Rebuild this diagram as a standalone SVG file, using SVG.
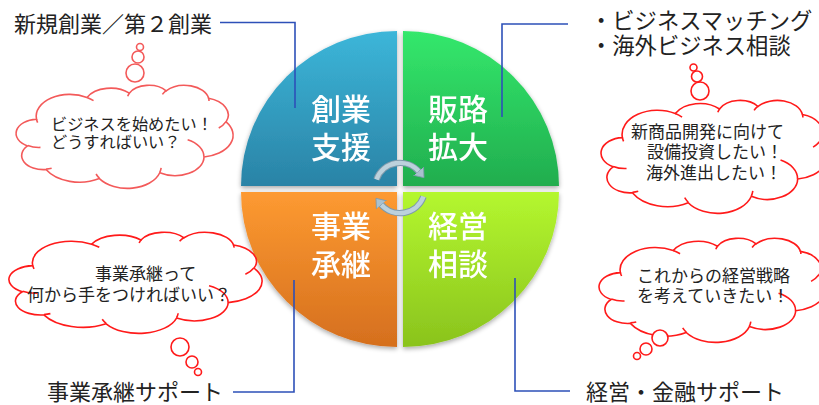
<svg xmlns="http://www.w3.org/2000/svg" xmlns:xlink="http://www.w3.org/1999/xlink" width="819" height="405" viewBox="0 0 819 405">
<style>
  .lbl { font-family: "Liberation Sans", "Noto Sans CJK JP", sans-serif; font-size: 22px; fill: #222; }
  .say { font-family: "Liberation Sans", "Noto Sans CJK JP", sans-serif; font-size: 17px; fill: #222; }
  .quad { font-family: "Liberation Sans", "Noto Sans CJK JP", sans-serif; font-size: 30px; font-weight: 500; fill: #fff; text-anchor: middle; }
  .cloud { fill: #fff; stroke: #ff1a1a; stroke-width: 1.6; }
  .crease { fill: none; stroke: #ff1a1a; stroke-width: 1.6; }
  .bub { fill: #fff; stroke: #ff1a1a; stroke-width: 1.6; }
  .conn { fill: none; stroke: #2d50b8; stroke-width: 1.6; }
</style>
<defs>
  <path id="cloudOutline" vector-effect="non-scaling-stroke" d="M3900,14370 A6753,9190 0 0 1 14005,5201 A5333,7267 0 0 1 22456,3431 A4365,5945 0 0 1 29832,2478 A4857,6595 0 0 1 38318,5572 A5333,7273 0 0 1 41818,15456 A6775,9220 0 0 1 37402,30198 A5785,7867 0 0 1 28554,36807 A6752,9215 0 0 1 16480,39262 A7720,10543 0 0 1 5804,35469 A4360,5918 0 0 1 2112,25548 A4345,5945 0 0 1 3900,14370 Z"/>
  <path id="cloudCreases" vector-effect="non-scaling-stroke" d="M4693,26177 A4345,5945 0 0 1 2159,25379 M6928,34899 A4360,5918 0 0 1 5820,35281 M16478,39090 A6752,9215 0 0 1 15809,37348 M28827,34751 A6752,9215 0 0 1 28560,36661 M34129,22954 A5785,7867 0 0 1 37380,30089 M41798,15354 A5333,7273 0 0 1 40350,18031 M38324,5426 A4857,6595 0 0 1 38401,6691 M29078,3952 A4857,6595 0 0 1 29820,2340 M22141,4720 A4365,5945 0 0 1 22500,3332 M14000,5192 A6753,9190 0 0 1 15306,6549 M4127,15789 A6753,9190 0 0 1 3900,14370"/>
  <linearGradient id="gBlue" x1="0" y1="0" x2="0" y2="1"><stop offset="0" stop-color="#3cb6d9"/><stop offset="1" stop-color="#2a83a6"/></linearGradient>
  <linearGradient id="gGreen" x1="0" y1="0" x2="0" y2="1"><stop offset="0" stop-color="#34e86c"/><stop offset="1" stop-color="#21ad4e"/></linearGradient>
  <linearGradient id="gOrange" x1="0" y1="0" x2="0" y2="1"><stop offset="0" stop-color="#fd9a31"/><stop offset="1" stop-color="#d56f1e"/></linearGradient>
  <linearGradient id="gLime" x1="0" y1="0" x2="0" y2="1"><stop offset="0" stop-color="#b4f72f"/><stop offset="1" stop-color="#8ac31d"/></linearGradient>
  <filter id="shadow" x="-10%" y="-10%" width="120%" height="125%">
    <feGaussianBlur in="SourceAlpha" stdDeviation="2.5"/>
    <feOffset dx="0" dy="2" result="b"/>
    <feComponentTransfer><feFuncA type="linear" slope="0.35"/></feComponentTransfer>
    <feMerge><feMergeNode/><feMergeNode in="SourceGraphic"/></feMerge>
  </filter>
  <marker id="cyc" viewBox="0 -7 9 14" refX="1" refY="0" markerWidth="9" markerHeight="14" markerUnits="userSpaceOnUse" orient="auto">
    <path d="M0,-6.5 L8.5,0 L0,6.5 Z" fill="#a9c1cf" stroke="#7f9aab" stroke-width="0.8"/>
  </marker>
</defs>

<!-- quadrants -->
<g id="quad-sogyo" filter="url(#shadow)">
  <path d="M397,186 H241 A156,155 0 0 1 397,31 Z" fill="url(#gBlue)"/>
  <text class="quad"><tspan x="341" y="120">創業</tspan><tspan x="341" y="158">支援</tspan></text>
</g>
<g id="quad-hanro" filter="url(#shadow)">
  <path d="M403,186 V31 A156,155 0 0 1 559,186 Z" fill="url(#gGreen)"/>
  <text class="quad"><tspan x="458" y="120">販路</tspan><tspan x="458" y="158">拡大</tspan></text>
</g>
<g id="quad-shokei" filter="url(#shadow)">
  <path d="M397,192 V347 A156,155 0 0 1 241,192 Z" fill="url(#gOrange)"/>
  <text class="quad"><tspan x="341" y="237">事業</tspan><tspan x="341" y="275">承継</tspan></text>
</g>
<g id="quad-keiei" filter="url(#shadow)">
  <path d="M403,192 H559 A156,155 0 0 1 403,347 Z" fill="url(#gLime)"/>
  <text class="quad"><tspan x="458" y="237">経営</tspan><tspan x="458" y="275">相談</tspan></text>
</g>

<!-- cycle arrows -->
<g id="cycle">
  <path d="M376.5,179.4 A25,25 0 0 1 419.2,171.9" fill="none" stroke="#7f9aab" stroke-width="6.5"/>
  <path d="M376.5,179.4 A25,25 0 0 1 419.2,171.9" fill="none" stroke="#bcd1dc" stroke-width="4.5" marker-end="url(#cyc)"/>
  <path d="M423.5,196.6 A25,25 0 0 1 380.8,204.1" fill="none" stroke="#7f9aab" stroke-width="6.5"/>
  <path d="M423.5,196.6 A25,25 0 0 1 380.8,204.1" fill="none" stroke="#bcd1dc" stroke-width="4.5" marker-end="url(#cyc)"/>
</g>

<!-- connectors -->
<g id="connectors">
  <path class="conn" d="M220,22.5 H295 V108"/>
  <path class="conn" d="M502,117 V24 H568"/>
  <path class="conn" d="M233,392 H294 V280"/>
  <path class="conn" d="M515,278 V391 H570"/>
</g>

<!-- labels -->
<g id="label-sogyo"><text class="lbl" x="14" y="32">新規創業／第２創業</text></g>
<g id="label-hanro">
  <text class="lbl" style="font-size:22.3px"><tspan x="590" y="29">・ビジネスマッチング</tspan><tspan x="590" y="54">・海外ビジネス相談</tspan></text>
</g>
<g id="label-shokei"><text class="lbl" x="47" y="400">事業承継サポート</text></g>
<g id="label-keiei"><text class="lbl" x="586" y="400">経営・金融サポート</text></g>

<!-- thought clouds -->
<g id="cloud-sogyo">
  <use href="#cloudOutline" class="cloud" style="stroke:#f35a5a" transform="translate(17,85) scale(0.005,0.002384)"/>
  <use href="#cloudCreases" class="crease" style="stroke:#f35a5a" transform="translate(17,85) scale(0.005,0.002384)"/>
  <circle class="bub" style="stroke:#f35a5a" cx="135" cy="73" r="9"/>
  <circle class="bub" style="stroke:#f35a5a" cx="138" cy="57" r="6"/>
  <circle class="bub" style="stroke:#f35a5a" cx="140" cy="47" r="3.5"/>
  <text class="say" style="font-size:16.2px"><tspan x="51" y="130">ビジネスを始めたい！</tspan><tspan x="51" y="148">どうすればいい？</tspan></text>
</g>
<g id="cloud-hanro">
  <use href="#cloudOutline" class="cloud" transform="translate(602,100) scale(0.005231,0.002616)"/>
  <use href="#cloudCreases" class="crease" transform="translate(602,100) scale(0.005231,0.002616)"/>
  <circle class="bub" cx="700" cy="91" r="9"/>
  <circle class="bub" cx="697" cy="76.5" r="5.5"/>
  <circle class="bub" cx="693.5" cy="67.5" r="3.5"/>
  <text class="say"><tspan x="631" y="138">新商品開発に向けて</tspan><tspan x="647" y="158">設備投資したい！</tspan><tspan x="646" y="179">海外進出したい！</tspan></text>
</g>
<g id="cloud-shokei">
  <use href="#cloudOutline" class="cloud" transform="translate(10,232) scale(0.005833,0.002338)"/>
  <use href="#cloudCreases" class="crease" transform="translate(10,232) scale(0.005833,0.002338)"/>
  <circle class="bub" cx="180" cy="347" r="9"/>
  <circle class="bub" cx="192" cy="362" r="6"/>
  <circle class="bub" cx="198" cy="372" r="3.5"/>
  <text class="say"><tspan x="95" y="280">事業承継って</tspan><tspan x="27" y="301">何から手をつければいい？</tspan></text>
</g>
<g id="cloud-keiei">
  <use href="#cloudOutline" class="cloud" transform="translate(600,238) scale(0.005231,0.002407)"/>
  <use href="#cloudCreases" class="crease" transform="translate(600,238) scale(0.005231,0.002407)"/>
  <circle class="bub" cx="660" cy="338" r="8"/>
  <circle class="bub" cx="646" cy="349" r="6"/>
  <circle class="bub" cx="637" cy="356" r="3.5"/>
  <text class="say"><tspan x="637" y="282">これからの経営戦略</tspan><tspan x="637" y="302">を考えていきたい！</tspan></text>
</g>
</svg>
